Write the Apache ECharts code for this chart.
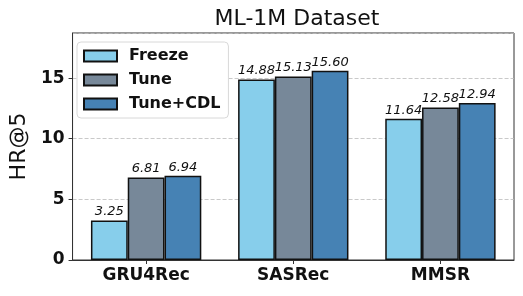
<!DOCTYPE html>
<html><head><meta charset="utf-8">
<script src="https://cdn.jsdelivr.net/npm/echarts@6/dist/echarts.min.js"></script>
<style>html,body{margin:0;padding:0;background:#fff}#c{width:523px;height:296px}</style>
</head><body><div id="c"></div>
<script>
const categories = ['GRU4Rec', 'SASRec', 'MMSR'];
const seriesNames = ['Freeze', 'Tune', 'Tune+CDL'];
const freeze = [3.25, 14.88, 11.64];
const tune = [6.81, 15.13, 12.58];
const tuneCDL = [6.94, 15.60, 12.94];
const yTicks = [0, 5, 10, 15];
const colors = ['#87CEEB', '#778899', '#4682B4'];

const chart = echarts.init(document.getElementById('c'), null, {renderer: 'canvas'});
const allData = [freeze, tune, tuneCDL];
const font = 'DejaVu Sans';
chart.setOption({
  animation: false,
  title: {text: 'ML-1M Dataset', left: 292, top: 3, textAlign: 'center',
    textStyle: {fontFamily: font, fontSize: 22, fontWeight: 'normal', color: '#111'}},
  grid: {left: 69, right: 9, top: 33, bottom: 36, show: true, borderColor: '#333', borderWidth: 1, backgroundColor: 'transparent'},
  legend: {
    orient: 'vertical', left: 77, top: 42, itemWidth: 33, itemHeight: 11, itemGap: 8,
    padding: [6, 8, 6, 6], backgroundColor: '#fff', borderColor: '#d8d8d8', borderWidth: 1, borderRadius: 4,
    icon: 'rect',
    textStyle: {fontFamily: font, fontSize: 16, lineHeight: 16, fontWeight: 'bold', color: '#111', padding: [0, 0, 0, 7]},
    data: seriesNames
  },
  xAxis: {
    type: 'category', data: categories,
    axisLine: {lineStyle: {color: '#333'}},
    axisTick: {show: true, alignWithLabel: true, length: 4, lineStyle: {color: '#333'}},
    axisLabel: {fontFamily: font, fontSize: 17, fontWeight: 'bold', color: '#111', margin: 7}
  },
  yAxis: {
    type: 'value', min: 0, max: 18.72, interval: 5,
    name: 'HR@5', nameLocation: 'middle', nameGap: 42,
    nameTextStyle: {fontFamily: font, fontSize: 22, color: '#111'},
    axisLine: {show: true, lineStyle: {color: '#333'}},
    axisTick: {show: true, length: 4, lineStyle: {color: '#333'}},
    axisLabel: {fontFamily: font, fontSize: 17, fontWeight: 'bold', color: '#111', margin: 8,
      showMaxLabel: false,
      formatter: v => yTicks.includes(v) ? String(v) : ''},
    splitLine: {show: true, lineStyle: {type: [4, 2], color: '#bbb', width: 0.8}}
  },
  series: seriesNames.map((n, i) => ({
    name: n, type: 'bar', data: allData[i],
    barGap: '0%', barCategoryGap: '25%',
    itemStyle: {color: colors[i], borderColor: '#111', borderWidth: 1.5},
    label: {show: true, position: 'top', distance: 2, fontFamily: font, fontSize: 13, fontStyle: 'italic', color: '#111',
      formatter: p => p.value.toFixed(2)}
  }))
});
</script></body></html>
